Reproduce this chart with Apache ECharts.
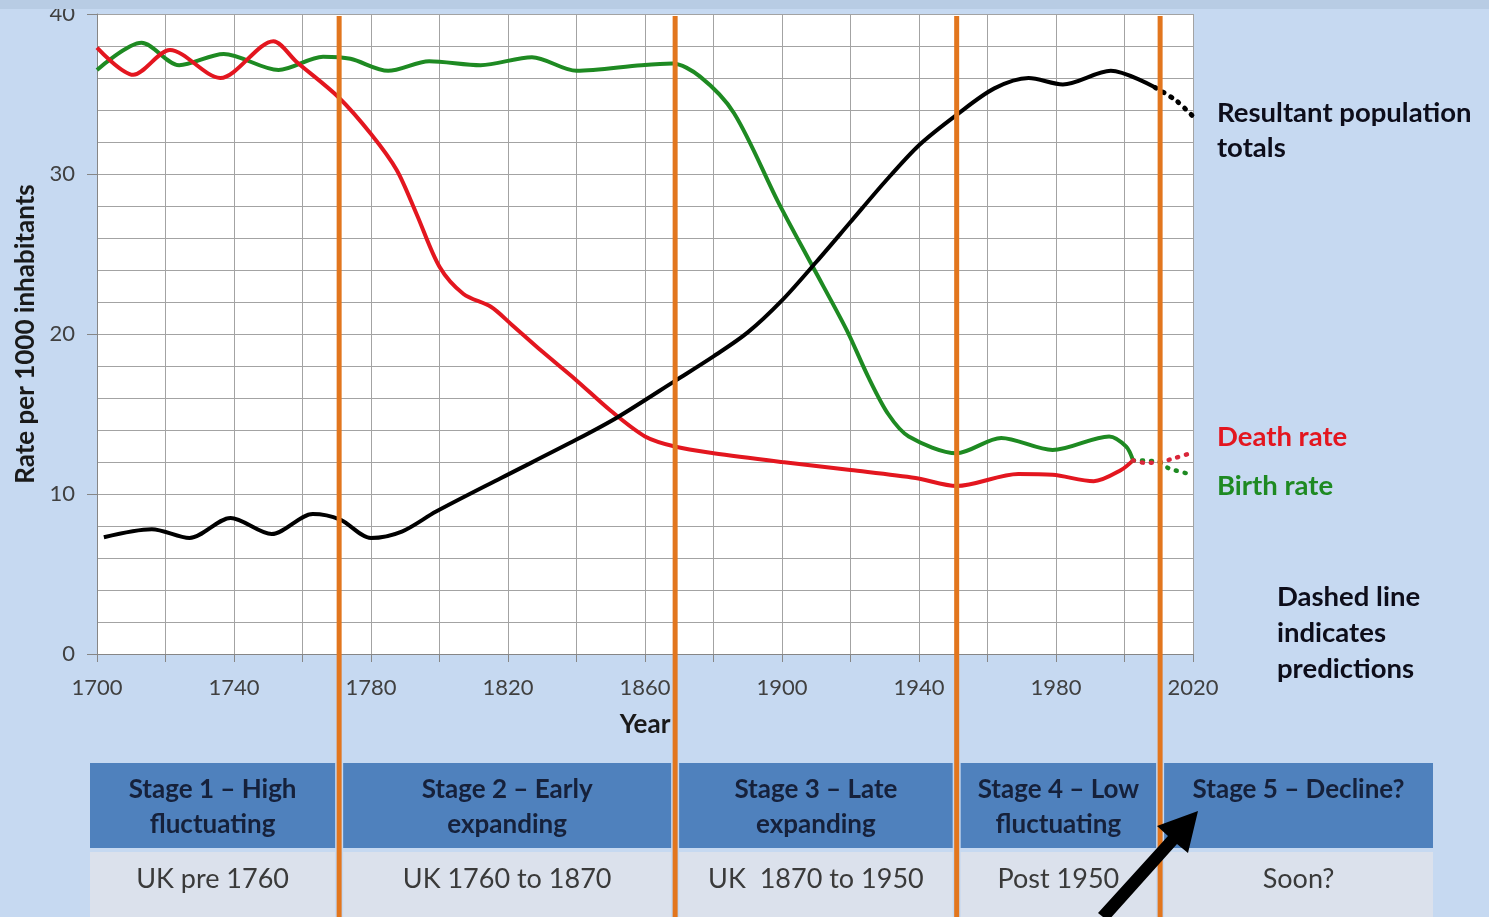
<!DOCTYPE html>
<html>
<head>
<meta charset="utf-8">
<script src="https://cdn.jsdelivr.net/npm/echarts@6/dist/echarts.min.js"></script>
<style>
html, body { margin: 0; padding: 0; background: #c6d9f1; }
#chart { width: 1489px; height: 917px; }
</style>
</head>
<body>
<div id="chart"></div>
<script>
// birth rate (green) - observed
var birthYears = [1700, 1713, 1724, 1737, 1753, 1766, 1774, 1785, 1797, 1812, 1827, 1840, 1859, 1868, 1876, 1886, 1899, 1909, 1919, 1925, 1931, 1937, 1951, 1964, 1979, 1995.5, 2000.5, 2002.5];
var birthRate  = [36.5, 38.2, 36.8, 37.5, 36.5, 37.33, 37.2, 36.45, 37.05, 36.8, 37.3, 36.45, 36.8, 36.9, 36.1, 33.8, 28.2, 24.2, 20.2, 17.4, 15.0, 13.6, 12.55, 13.5, 12.75, 13.6, 12.96, 12.1];
// birth rate - prediction (dotted)
var birthPredYears = [2002.5, 2010, 2013, 2020];
var birthPredRate  = [12.1, 12.0, 11.6, 11.2];

// death rate (red) - observed
var deathYears = [1700, 1710.6, 1721.3, 1736, 1751.5, 1758.3, 1770.5, 1780, 1787.5, 1793.3, 1800, 1807, 1815, 1821, 1830, 1840, 1850, 1860, 1869, 1880, 1900, 1920, 1939, 1951, 1969, 1979, 1991, 1999, 2002.5];
var deathRate  = [37.9, 36.2, 37.75, 36.0, 38.3, 37.0, 34.8, 32.5, 30.25, 27.5, 24.2, 22.5, 21.7, 20.6, 18.9, 17.1, 15.2, 13.6, 12.95, 12.55, 12.0, 11.5, 11.0, 10.5, 11.25, 11.2, 10.8, 11.5, 12.1];
var deathPredYears = [2002.5, 2006, 2010, 2014, 2020];
var deathPredRate  = [12.1, 11.95, 12.0, 12.2, 12.6];

// resultant population totals (black)
var popYears = [1702, 1716, 1727, 1739, 1751, 1763, 1771, 1780, 1789, 1799, 1818, 1840, 1852, 1869, 1880, 1890, 1900, 1910, 1920, 1930, 1940, 1951, 1962, 1972, 1982, 1996, 2009];
var popTotal = [7.3, 7.8, 7.25, 8.5, 7.5, 8.75, 8.4, 7.25, 7.65, 8.9, 11.0, 13.4, 14.8, 17.1, 18.6, 20.1, 22.1, 24.5, 27.0, 29.5, 31.8, 33.7, 35.35, 36.0, 35.6, 36.45, 35.4];
var popPredYears = [2009, 2015, 2020];
var popPredTotal = [35.4, 34.6, 33.6];

// stage boundaries (orange lines) and the table under the chart
var stageYears = [1770.7, 1868.8, 1951, 2010.4];
var stageTitles = ['Stage 1 – High\nfluctuating', 'Stage 2 – Early\nexpanding', 'Stage 3 – Late\nexpanding', 'Stage 4 – Low\nfluctuating', 'Stage 5 – Decline?'];
var stagePeriods = ['UK pre 1760', 'UK 1760 to 1870', 'UK  1870 to 1950', 'Post 1950', 'Soon?'];

var FONT = 'Lato, "Open Sans", sans-serif';

function pairs(xs, ys) {
    return xs.map(function (x, i) { return [x, ys[i]]; });
}

function solid(name, color, xs, ys) {
    return {
        name: name, type: 'line', data: pairs(xs, ys),
        smooth: 0.3, showSymbol: false, silent: true,
        lineStyle: { color: color, width: 4 }
    };
}
function dotted(name, color, xs, ys, w) {
    return {
        name: name, type: 'line', data: pairs(xs, ys),
        smooth: 0.3, showSymbol: false, silent: true,
        lineStyle: { color: color, width: w, type: [1, 8], cap: 'round' }
    };
}

var chart = echarts.init(document.getElementById('chart'));
chart.setOption({
    backgroundColor: '#c6d9f1',
    animation: false,
    grid: { left: 97, right: 296, top: 14, bottom: 263, show: true, backgroundColor: '#ffffff', borderWidth: 0 },
    xAxis: {
        type: 'value', min: 1700, max: 2020, interval: 20,
        name: 'Year', nameLocation: 'middle', nameGap: 58,
        nameTextStyle: { fontFamily: FONT, fontWeight: 'bold', fontSize: 26, color: '#1a1a1a' },
        axisLine: { show: true, lineStyle: { color: '#868686' } },
        axisTick: { show: true, length: 8, lineStyle: { color: '#868686' } },
        axisLabel: {
            margin: 23, fontFamily: FONT, fontSize: 22, color: '#404040',
            formatter: function (v) { return (v - 1700) % 40 === 0 ? String(v) : ''; }
        },
        splitLine: { show: true, lineStyle: { color: '#a3a3a3', width: 1 } }
    },
    yAxis: {
        type: 'value', min: 0, max: 40, interval: 10,
        name: 'Rate per 1000 inhabitants', nameLocation: 'middle', nameGap: 58,
        nameTextStyle: { fontFamily: FONT, fontWeight: 'bold', fontSize: 26, color: '#1a1a1a' },
        axisLine: { show: true, lineStyle: { color: '#868686' } },
        axisTick: { show: true, length: 10, lineStyle: { color: '#868686' } },
        axisLabel: { margin: 22, fontFamily: FONT, fontSize: 22, color: '#404040' },
        splitLine: { show: true, lineStyle: { color: '#a3a3a3', width: 1 } },
        minorTick: { show: false, splitNumber: 5 },
        minorSplitLine: { show: true, lineStyle: { color: '#a3a3a3', width: 1 } }
    },
    series: [
        solid('Birth rate', '#1e8a22', birthYears, birthRate),
        solid('Death rate', '#e3161f', deathYears, deathRate),
        solid('Population', '#000000', popYears, popTotal),
        dotted('Birth pred', '#1e8a22', birthPredYears, birthPredRate, 4.5),
        dotted('Death pred', '#d9263a', deathPredYears, deathPredRate, 4.5),
        dotted('Population pred', '#000000', popPredYears, popPredTotal, 5)
    ]
});

// overlay: orange stage lines, stage table, side notes, arrow
var topY = chart.convertToPixel({ yAxisIndex: 0 }, 40);
var stageX = stageYears.map(function (y) { return chart.convertToPixel({ xAxisIndex: 0 }, y); });
var edges = [90].concat(stageX, [1433]);
var g = [];

g.push({ type: 'rect', z: 100, shape: { x: 0, y: 0, width: 1489, height: 9 }, style: { fill: '#b8cce4' } });

for (var i = 0; i < stageTitles.length; i++) {
    var x0 = i === 0 ? edges[0] : edges[i] + 4;
    var x1 = i === stageTitles.length - 1 ? edges[i + 1] : edges[i + 1] - 4;
    var cx = (x0 + x1) / 2;
    g.push({ type: 'rect', z: 10, shape: { x: x0, y: 763, width: x1 - x0, height: 85 }, style: { fill: '#4f81bd' } });
    g.push({ type: 'rect', z: 10, shape: { x: x0, y: 852, width: x1 - x0, height: 70 }, style: { fill: '#dbe1ec' } });
    var lines = stageTitles[i].split('\n');
    lines.forEach(function (t, k) {
        g.push({ type: 'text', z: 11, style: {
            text: t, x: cx, y: 790 + k * 35, textAlign: 'center', textVerticalAlign: 'middle',
            font: 'bold 26px ' + FONT, fill: '#16213b'
        } });
    });
    g.push({ type: 'text', z: 11, style: {
        text: stagePeriods[i], x: cx, y: 879, textAlign: 'center', textVerticalAlign: 'middle',
        font: '27px ' + FONT, fill: '#3a3a3a'
    } });
}

stageX.forEach(function (x) {
    g.push({ type: 'line', z: 50, shape: { x1: x, y1: topY + 2, x2: x, y2: 917 }, style: { stroke: '#e2761e', lineWidth: 5 } });
});

function note(text, x, y, color) {
    g.push({ type: 'text', z: 11, style: {
        text: text, x: x, y: y, textAlign: 'left', textVerticalAlign: 'middle',
        font: 'bold 27.5px ' + FONT, fill: color
    } });
}
note('Resultant population', 1217, 113, '#0d0d1a');
note('totals', 1217, 148, '#0d0d1a');
note('Death rate', 1217, 437, '#e3161f');
note('Birth rate', 1217, 486, '#1e8a22');
note('Dashed line', 1277, 597, '#0d0d1a');
note('indicates', 1277, 633, '#0d0d1a');
note('predictions', 1277, 669, '#0d0d1a');

g.push({ type: 'polygon', z: 60, shape: { points: [
    [1098, 913], [1168, 836], [1157, 826], [1198, 811], [1188, 853], [1177, 844], [1108, 921]
] }, style: { fill: '#000000' } });

chart.setOption({ graphic: g });
</script>
</body>
</html>
